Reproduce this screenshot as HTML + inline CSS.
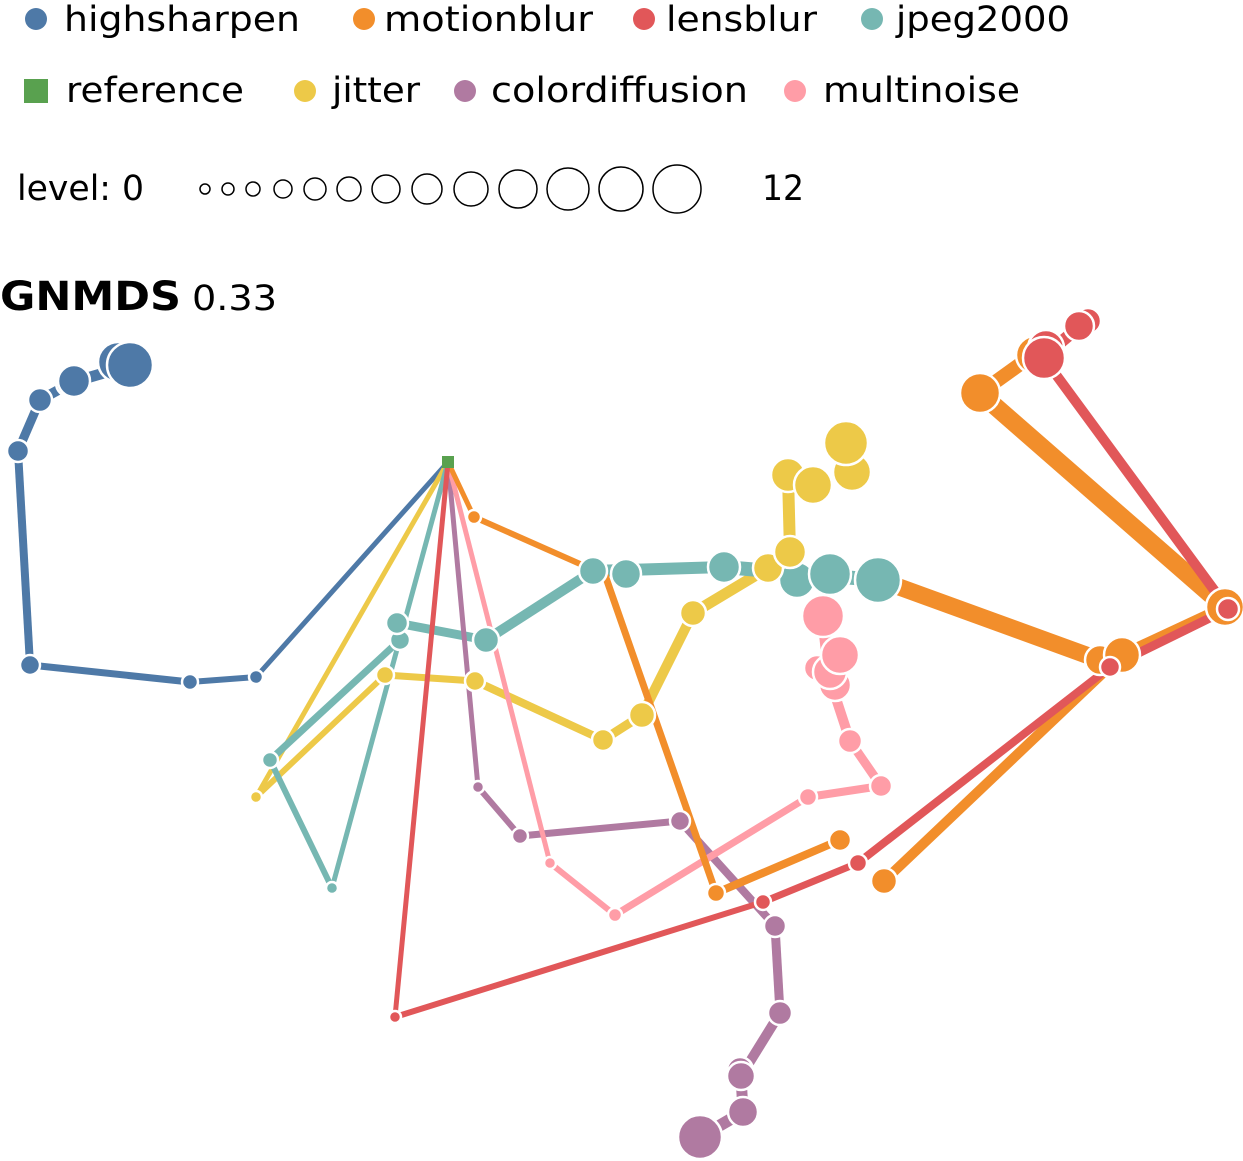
<!DOCTYPE html>
<html><head><style>body{margin:0;background:#fff}svg{display:block}</style></head><body>
<svg width="1243" height="1161" xmlns="http://www.w3.org/2000/svg" font-family="DejaVu Sans, Liberation Sans, sans-serif">
<g font-size="35" fill="#000">
<circle cx="36" cy="19" r="11" fill="#4e79a7"/><text x="64" y="31" textLength="236" lengthAdjust="spacingAndGlyphs">highsharpen</text>
<circle cx="364" cy="19" r="11" fill="#f28e2b"/><text x="384" y="31" textLength="209" lengthAdjust="spacingAndGlyphs">motionblur</text>
<circle cx="644" cy="19" r="11" fill="#e15759"/><text x="666" y="31" textLength="151" lengthAdjust="spacingAndGlyphs">lensblur</text>
<circle cx="872" cy="19" r="11" fill="#76b7b2"/><text x="896" y="31" textLength="174" lengthAdjust="spacingAndGlyphs">jpeg2000</text>
<rect x="24" y="79" width="24" height="24" fill="#59a14f"/><text x="66" y="102" textLength="178" lengthAdjust="spacingAndGlyphs">reference</text>
<circle cx="305" cy="91" r="11" fill="#edc948"/><text x="332" y="102" textLength="88" lengthAdjust="spacingAndGlyphs">jitter</text>
<circle cx="465" cy="91" r="11" fill="#b07aa1"/><text x="491" y="102" textLength="257" lengthAdjust="spacingAndGlyphs">colordiffusion</text>
<circle cx="795" cy="91" r="11" fill="#ff9da7"/><text x="823" y="102" textLength="197" lengthAdjust="spacingAndGlyphs">multinoise</text>
<text x="17" y="200" textLength="127" lengthAdjust="spacingAndGlyphs">level: 0</text><text x="762" y="200" textLength="42" lengthAdjust="spacingAndGlyphs">12</text>
<text x="0" y="310" font-weight="bold" font-size="40" textLength="181" lengthAdjust="spacingAndGlyphs">GNMDS</text><text x="192" y="310" textLength="85" lengthAdjust="spacingAndGlyphs">0.33</text>
</g>
<g fill="none" stroke="#000" stroke-width="1.5">
<circle cx="205" cy="189" r="5"/><circle cx="228" cy="189" r="6"/><circle cx="253" cy="189" r="7"/><circle cx="283" cy="189" r="9"/><circle cx="315" cy="189" r="11"/><circle cx="349" cy="189" r="12"/><circle cx="386" cy="189" r="14"/><circle cx="427" cy="189" r="15"/><circle cx="471" cy="189" r="17"/><circle cx="518" cy="189" r="19"/><circle cx="568" cy="189" r="21"/><circle cx="621" cy="189" r="22"/><circle cx="677" cy="189" r="24"/>
</g>
<g stroke-linecap="butt">
<g stroke="#4e79a7">
<line x1="448" y1="462" x2="256" y2="677" stroke-width="5"/><line x1="256" y1="677" x2="190" y2="682" stroke-width="6"/><line x1="190" y1="682" x2="30" y2="665" stroke-width="7"/><line x1="30" y1="665" x2="18" y2="451" stroke-width="8"/><line x1="18" y1="451" x2="40" y2="400" stroke-width="9"/><line x1="40" y1="400" x2="73" y2="382" stroke-width="10"/><line x1="73" y1="382" x2="128" y2="366" stroke-width="11"/>
</g>
<g stroke="#edc948">
<line x1="448" y1="462" x2="256" y2="797" stroke-width="5"/><line x1="256" y1="797" x2="385" y2="675" stroke-width="6"/><line x1="385" y1="675" x2="475" y2="681" stroke-width="7"/><line x1="475" y1="681" x2="603" y2="740" stroke-width="8"/><line x1="603" y1="740" x2="642" y2="715" stroke-width="9"/><line x1="642" y1="715" x2="693" y2="613" stroke-width="10"/><line x1="693" y1="613" x2="768" y2="568" stroke-width="11"/><line x1="768" y1="568" x2="790" y2="552" stroke-width="11"/><line x1="790" y1="552" x2="788" y2="475" stroke-width="12"/>
</g>
<g stroke="#76b7b2">
<line x1="448" y1="462" x2="332" y2="888" stroke-width="5"/><line x1="332" y1="888" x2="270" y2="760" stroke-width="6"/><line x1="270" y1="760" x2="400" y2="640" stroke-width="7"/><line x1="400" y1="640" x2="397" y2="623" stroke-width="8"/><line x1="397" y1="623" x2="486" y2="640" stroke-width="9"/><line x1="486" y1="640" x2="593" y2="571" stroke-width="10"/><line x1="593" y1="571" x2="724" y2="567" stroke-width="12"/><line x1="724" y1="567" x2="878" y2="580" stroke-width="14"/>
</g>
<g stroke="#b07aa1">
<line x1="448" y1="462" x2="478" y2="787" stroke-width="5"/><line x1="478" y1="787" x2="520" y2="836" stroke-width="6"/><line x1="520" y1="836" x2="680" y2="821" stroke-width="7"/><line x1="680" y1="821" x2="775" y2="926" stroke-width="8"/><line x1="775" y1="926" x2="780" y2="1013" stroke-width="9"/><line x1="780" y1="1013" x2="741" y2="1076" stroke-width="10"/><line x1="741" y1="1076" x2="743" y2="1112" stroke-width="11"/><line x1="743" y1="1112" x2="700" y2="1137" stroke-width="12"/>
</g>
<g stroke="#ff9da7">
<line x1="448" y1="462" x2="550" y2="863" stroke-width="5"/><line x1="550" y1="863" x2="615" y2="915" stroke-width="6"/><line x1="615" y1="915" x2="808" y2="797" stroke-width="7"/><line x1="808" y1="797" x2="881" y2="786" stroke-width="8"/><line x1="881" y1="786" x2="850" y2="741" stroke-width="9"/><line x1="850" y1="741" x2="830" y2="680" stroke-width="10"/><line x1="830" y1="680" x2="823" y2="616" stroke-width="12"/>
</g>
<g stroke="#f28e2b">
<line x1="448" y1="462" x2="474" y2="517" stroke-width="5"/><line x1="474" y1="517" x2="605" y2="575" stroke-width="6"/><line x1="605" y1="575" x2="716" y2="893" stroke-width="7"/><line x1="716" y1="893" x2="840" y2="840" stroke-width="8"/><line x1="884" y1="881" x2="1122" y2="655" stroke-width="10"/><line x1="1122" y1="655" x2="1225" y2="607" stroke-width="11"/><line x1="1100" y1="660" x2="880" y2="580" stroke-width="17"/><line x1="1225" y1="607" x2="980" y2="393" stroke-width="18"/><line x1="980" y1="393" x2="1030" y2="357" stroke-width="14"/>
</g>
<g stroke="#e15759">
<line x1="448" y1="462" x2="395" y2="1017" stroke-width="5"/><line x1="395" y1="1017" x2="763" y2="902" stroke-width="6"/><line x1="763" y1="902" x2="858" y2="863" stroke-width="7"/><line x1="858" y1="863" x2="1110" y2="667" stroke-width="8"/><line x1="1110" y1="667" x2="1228" y2="609" stroke-width="9"/><line x1="1228" y1="609" x2="1043" y2="357" stroke-width="10"/><line x1="1043" y1="357" x2="1085" y2="322" stroke-width="12"/>
</g>
</g>
<g stroke="#fff" stroke-width="2.5">
<g fill="#4e79a7"><circle cx="256" cy="677" r="7"/><circle cx="190" cy="682" r="8"/><circle cx="30" cy="665" r="10"/><circle cx="18" cy="451" r="11"/><circle cx="40" cy="400" r="12"/><circle cx="70" cy="383" r="14"/><circle cx="74" cy="381" r="16"/><circle cx="118" cy="362" r="20"/><circle cx="130" cy="365" r="23"/></g>
<g fill="#76b7b2"><circle cx="332" cy="888" r="6"/><circle cx="270" cy="760" r="8"/><circle cx="400" cy="640" r="10"/><circle cx="397" cy="623" r="11"/><circle cx="486" cy="640" r="13"/><circle cx="593" cy="571" r="14"/><circle cx="626" cy="574" r="15"/><circle cx="724" cy="567" r="16"/><circle cx="797" cy="580" r="18"/><circle cx="830" cy="574" r="21"/><circle cx="878" cy="580" r="23"/></g>
<g fill="#edc948"><circle cx="256" cy="797" r="6"/><circle cx="385" cy="675" r="9"/><circle cx="475" cy="681" r="10"/><circle cx="603" cy="740" r="11"/><circle cx="642" cy="715" r="13"/><circle cx="693" cy="613" r="13"/><circle cx="768" cy="568" r="15"/><circle cx="790" cy="552" r="16"/><circle cx="788" cy="475" r="17"/><circle cx="852" cy="472" r="19"/><circle cx="813" cy="485" r="19"/><circle cx="846" cy="443" r="22"/></g>
<g fill="#b07aa1"><circle cx="478" cy="787" r="6"/><circle cx="520" cy="836" r="8"/><circle cx="680" cy="821" r="10"/><circle cx="775" cy="926" r="11"/><circle cx="780" cy="1013" r="12"/><circle cx="740" cy="1070" r="13"/><circle cx="741" cy="1076" r="14"/><circle cx="743" cy="1112" r="15"/><circle cx="700" cy="1137" r="22"/></g>
<g fill="#ff9da7"><circle cx="550" cy="863" r="6"/><circle cx="615" cy="915" r="7"/><circle cx="808" cy="797" r="9"/><circle cx="881" cy="786" r="11"/><circle cx="850" cy="741" r="12"/><circle cx="817" cy="668" r="13"/><circle cx="835" cy="685" r="16"/><circle cx="830" cy="672" r="17"/><circle cx="840" cy="655" r="19"/><circle cx="823" cy="616" r="21"/></g>
<g fill="#f28e2b"><circle cx="474" cy="517" r="7"/><circle cx="716" cy="893" r="9"/><circle cx="840" cy="840" r="11"/><circle cx="884" cy="881" r="13"/><circle cx="1100" cy="660" r="15"/><circle cx="1122" cy="655" r="18"/><circle cx="1225" cy="607" r="19"/><circle cx="980" cy="393" r="20"/><circle cx="1035" cy="355" r="19"/></g>
<g fill="#e15759"><circle cx="395" cy="1017" r="6"/><circle cx="763" cy="902" r="8"/><circle cx="858" cy="863" r="9"/><circle cx="1110" cy="667" r="10"/><circle cx="1228" cy="609" r="11"/><circle cx="1088" cy="321" r="13"/><circle cx="1079" cy="326" r="15"/><circle cx="1046" cy="348" r="18"/><circle cx="1044" cy="358" r="21"/></g>
</g>
<rect x="442" y="456" width="12" height="12" fill="#59a14f"/>
</svg>
</body></html>
